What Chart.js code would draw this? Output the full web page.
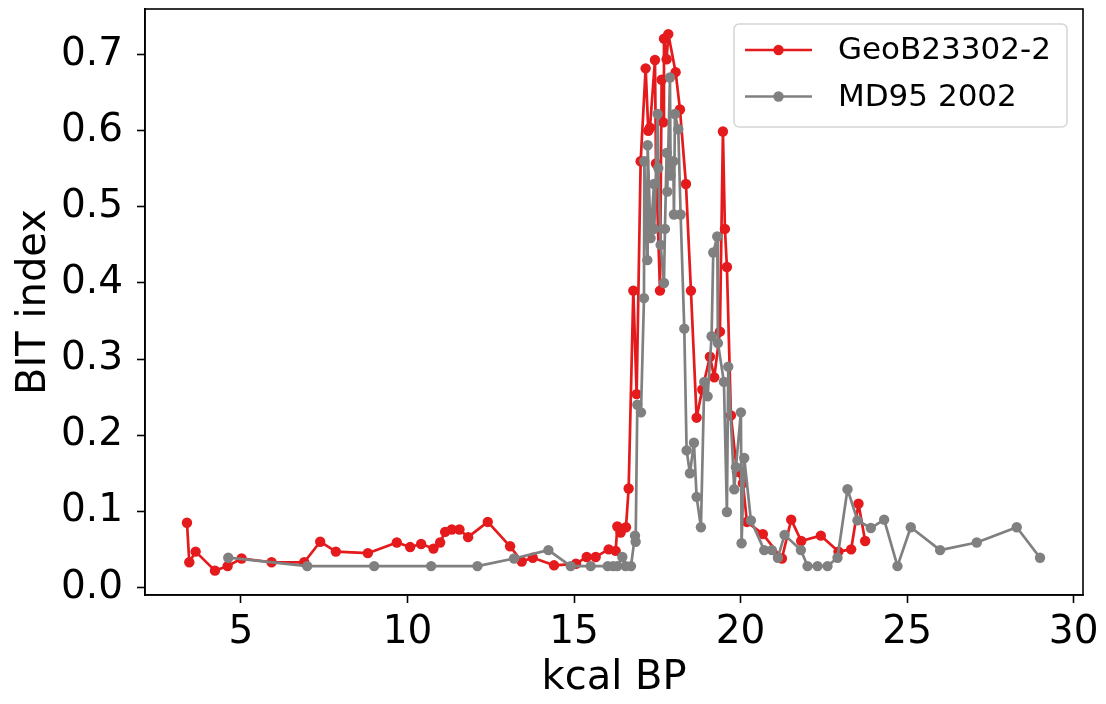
<!DOCTYPE html>
<html>
<head>
<meta charset="utf-8">
<title>BIT index</title>
<script src="https://cdn.jsdelivr.net/npm/chart.js@4.4.0/dist/chart.umd.min.js"></script>
<style>
  html, body { margin: 0; padding: 0; background: #fff; }
  canvas { display: block; }
</style>
</head>
<body>
<canvas id="bitChart" width="1106" height="704"></canvas>
<script>
// Series names
const seriesNames = ["GeoB23302-2", "MD95 2002"];

// GeoB23302-2 (age in kcal BP, BIT index)
const geoAge = [3.38, 3.45, 3.64, 4.22, 4.60, 5.02, 5.92, 6.90, 7.38, 7.85, 8.81, 9.68, 10.08, 10.41, 10.78, 10.98,
  11.13, 11.33, 11.56, 11.82, 12.41, 13.08, 13.43, 13.76, 14.40, 15.06, 15.38, 15.65, 16.04, 16.25, 16.30, 16.40,
  16.56, 16.64, 16.78, 16.88, 17.00, 17.15, 17.23, 17.28, 17.43, 17.46, 17.58, 17.63, 17.68, 17.70, 17.78, 17.83,
  18.05, 18.18, 18.36, 18.51, 18.68, 18.85, 19.08, 19.21, 19.38, 19.47, 19.53, 19.59, 19.71, 19.89, 20.07, 20.19,
  20.67, 21.24, 21.52, 21.82, 22.41, 22.94, 23.32, 23.54, 23.74];
const geoBit = [0.085, 0.033, 0.047, 0.022, 0.028, 0.038, 0.033, 0.033, 0.060, 0.047, 0.045, 0.059, 0.053, 0.057, 0.051, 0.059,
  0.073, 0.076, 0.076, 0.066, 0.086, 0.054, 0.034, 0.039, 0.029, 0.031, 0.040, 0.040, 0.050, 0.048, 0.080, 0.072,
  0.079, 0.130, 0.390, 0.254, 0.560, 0.682, 0.600, 0.604, 0.693, 0.557, 0.390, 0.667, 0.611, 0.721, 0.694, 0.727,
  0.677, 0.628, 0.530, 0.390, 0.223, 0.260, 0.303, 0.276, 0.336, 0.599, 0.471, 0.421, 0.226, 0.152, 0.137, 0.086,
  0.070, 0.038, 0.089, 0.061, 0.068, 0.047, 0.050, 0.110, 0.061];

// MD95 2002
const mdAge = [4.62, 6.99, 9.00, 10.71, 12.10, 13.20, 14.23, 14.90, 15.50, 16.01, 16.17, 16.30, 16.45, 16.55, 16.71, 16.83,
  16.85, 16.90, 17.01, 17.10, 17.11, 17.20, 17.21, 17.30, 17.40, 17.41, 17.51, 17.53, 17.60, 17.70, 17.73, 17.78,
  17.80, 17.88, 17.90, 17.98, 18.00, 18.03, 18.13, 18.20, 18.31, 18.38, 18.48, 18.60, 18.68, 18.81, 18.91, 19.01,
  19.13, 19.18, 19.30, 19.32, 19.50, 19.59, 19.63, 19.81, 19.86, 20.01, 20.03, 20.11, 20.31, 20.71, 20.94, 21.12,
  21.32, 21.81, 22.01, 22.31, 22.61, 22.91, 23.21, 23.51, 23.91, 24.31, 24.71, 25.11, 25.99, 27.09, 28.29, 28.99];
const mdBit = [0.039, 0.028, 0.028, 0.028, 0.028, 0.038, 0.049, 0.028, 0.028, 0.028, 0.028, 0.028, 0.040, 0.028, 0.028, 0.068,
  0.060, 0.240, 0.230, 0.380, 0.560, 0.430, 0.581, 0.459, 0.530, 0.471, 0.622, 0.551, 0.450, 0.400, 0.471, 0.571,
  0.520, 0.670, 0.541, 0.560, 0.490, 0.622, 0.602, 0.490, 0.340, 0.180, 0.150, 0.190, 0.119, 0.079, 0.270, 0.251,
  0.330, 0.440, 0.461, 0.321, 0.270, 0.099, 0.290, 0.129, 0.158, 0.230, 0.058, 0.170, 0.088, 0.049, 0.049, 0.039,
  0.069, 0.049, 0.028, 0.028, 0.028, 0.039, 0.129, 0.088, 0.078, 0.089, 0.028, 0.079, 0.049, 0.059, 0.079, 0.039];

// Tick labels
const xTicks = [5, 10, 15, 20, 25, 30];
const yTicks = [0.0, 0.1, 0.2, 0.3, 0.4, 0.5, 0.6, 0.7];

const RED = "#e41a1c";
const GREY = "#808080";
const FONT = "'DejaVu Sans', sans-serif";

function toPoints(xs, ys) {
  return xs.map((x, i) => ({ x: x, y: ys[i] }));
}

// box round the axes + matplotlib-like legend in the upper right
const framePlugin = {
  id: "frame",
  afterDatasetsDraw(chart) {
    const { ctx, chartArea: a } = chart;
    ctx.save();
    ctx.strokeStyle = "#000";
    ctx.lineWidth = 1.6;
    ctx.strokeRect(a.left, a.top, a.right - a.left, a.bottom - a.top);

    // legend
    const w = 333, h = 103;
    const lx = a.right - 16 - w, ly = a.top + 15;
    ctx.beginPath();
    ctx.roundRect(lx, ly, w, h, 5);
    ctx.fillStyle = "rgba(255,255,255,0.8)";
    ctx.fill();
    ctx.strokeStyle = "#d5d5d5";
    ctx.lineWidth = 1.5;
    ctx.stroke();

    ctx.font = "31px " + FONT;
    ctx.textBaseline = "middle";
    ctx.textAlign = "left";
    [0, 1].forEach((i) => {
      const ds = chart.data.datasets[i];
      const y = ly + 26 + i * 46.5;
      ctx.strokeStyle = ds.borderColor;
      ctx.lineWidth = 2.7;
      ctx.beginPath();
      ctx.moveTo(lx + 11, y);
      ctx.lineTo(lx + 78, y);
      ctx.stroke();
      ctx.fillStyle = ds.borderColor;
      ctx.beginPath();
      ctx.arc(lx + 44.5, y, 5.2, 0, Math.PI * 2);
      ctx.fill();
      ctx.fillStyle = "#000";
      ctx.fillText(ds.label, lx + 104, y + 1);
    });
    ctx.restore();
  }
};

const ctx = document.getElementById("bitChart").getContext("2d");
const bitChart = new Chart(ctx, {
  type: "line",
  data: {
    datasets: [
      {
        label: seriesNames[0],
        data: toPoints(geoAge, geoBit),
        borderColor: RED,
        backgroundColor: RED,
        borderWidth: 2.7,
        borderJoinStyle: "round",
        pointRadius: 5.2,
        pointBorderWidth: 0,
        pointBackgroundColor: RED,
        tension: 0,
        order: 2
      },
      {
        label: seriesNames[1],
        data: toPoints(mdAge, mdBit),
        borderColor: GREY,
        backgroundColor: GREY,
        borderWidth: 2.7,
        borderJoinStyle: "round",
        pointRadius: 5.2,
        pointBorderWidth: 0,
        pointBackgroundColor: GREY,
        tension: 0,
        order: 1
      }
    ]
  },
  options: {
    responsive: false,
    animation: false,
    devicePixelRatio: 1,
    layout: { padding: { top: 9, right: 23, left: 0, bottom: 0 } },
    plugins: {
      legend: { display: false },
      tooltip: { enabled: false }
    },
    scales: {
      x: {
        type: "linear",
        min: 2.12,
        max: 30.28,
        afterBuildTicks: (scale) => { scale.ticks = xTicks.map((v) => ({ value: v })); },
        afterFit: (scale) => {
          scale.height = 109;
          scale.paddingLeft = 0;
          scale.paddingRight = 0;
        },
        grid: { drawOnChartArea: false, drawTicks: true, tickLength: 8, tickWidth: 1.6, tickColor: "#000" },
        border: { display: true, color: "#000", width: 1.6 },
        ticks: {
          color: "#000",
          padding: 6,
          maxRotation: 0,
          font: { family: FONT, size: 39 },
          callback: (v) => String(v)
        },
        title: {
          display: true,
          text: "kcal BP",
          color: "#000",
          font: { family: FONT, size: 40 },
          padding: { bottom: 1 }
        }
      },
      y: {
        min: -0.01,
        max: 0.76,
        afterBuildTicks: (scale) => { scale.ticks = yTicks.map((v) => ({ value: v })); },
        afterFit: (scale) => {
          scale.width = 145;
          scale.paddingTop = 0;
          scale.paddingBottom = 0;
        },
        grid: { drawOnChartArea: false, drawTicks: true, tickLength: 8, tickWidth: 1.6, tickColor: "#000" },
        border: { display: true, color: "#000", width: 1.6 },
        ticks: {
          color: "#000",
          padding: 14,
          font: { family: FONT, size: 39 },
          callback: (v) => Number(v).toFixed(1)
        },
        title: {
          display: true,
          text: "BIT index",
          color: "#000",
          font: { family: FONT, size: 40 },
          padding: { top: 11 }
        }
      }
    }
  },
  plugins: [framePlugin]
});
</script>
</body>
</html>
